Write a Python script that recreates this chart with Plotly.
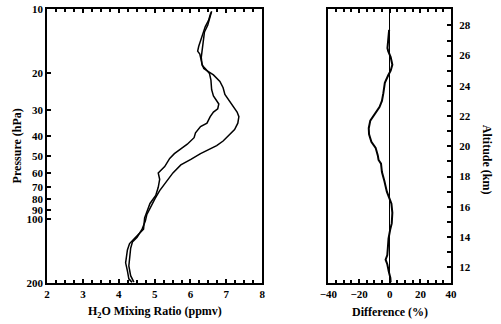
import plotly.graph_objects as go

# Water-vapour profiles (ppmv) versus pressure (hPa)
pres_a = [10.2, 11.05, 11.9, 12.8, 13.65, 15.2, 16.9, 18.15, 19.1, 19.75, 20.5, 22.0, 23.6,
          25.4, 26.75, 28.7, 30.8, 32.4, 34.8, 37.3, 39.4, 42.3, 44.5, 46.9, 48.6, 51.8,
          55.0, 60.0, 65.6, 72.9, 79.6, 85.4, 95.0, 101.8, 111.2, 121.5, 128.0, 137.4,
          150.0, 166.6, 185.2, 198.9]
h2o_a = [6.59, 6.54, 6.48, 6.39, 6.37, 6.33, 6.30, 6.32, 6.37, 6.50, 6.64, 6.82, 6.91,
         6.96, 7.05, 7.18, 7.30, 7.35, 7.32, 7.23, 7.09, 6.91, 6.73, 6.46, 6.28, 6.01,
         5.73, 5.51, 5.33, 5.14, 5.01, 4.92, 4.78, 4.74, 4.65, 4.51, 4.38, 4.33,
         4.30, 4.28, 4.33, 4.42]

pres_b = [10.34, 11.3, 12.1, 13.0, 13.9, 14.97, 15.8, 16.3, 17.2, 18.5, 19.1, 20.2, 21.7,
          24.1, 25.8, 27.2, 28.2, 29.7, 30.8, 32.4, 34.8, 36.1, 38.7, 40.8, 43.8, 46.1,
          48.6, 51.2, 56.0, 60.0, 64.4, 70.3, 76.8, 83.9, 91.6, 98.3, 111.2, 121.5,
          130.3, 139.7, 160.9, 175.7, 191.8, 199.4]
h2o_b = [6.57, 6.50, 6.41, 6.35, 6.28, 6.23, 6.20, 6.26, 6.29, 6.33, 6.41, 6.53, 6.57,
         6.59, 6.64, 6.73, 6.79, 6.76, 6.64, 6.55, 6.46, 6.28, 6.14, 6.10, 5.91, 5.73,
         5.55, 5.42, 5.28, 5.10, 5.14, 5.10, 5.03, 4.87, 4.78, 4.72, 4.69, 4.46,
         4.30, 4.24, 4.19, 4.24, 4.28, 4.37]

# Percent difference versus altitude (km)
alt_d = [27.7, 27.1, 26.5, 26.3, 25.9, 25.4, 25.0, 24.7, 24.2, 23.5, 23.0, 22.6, 22.1,
         21.7, 21.2, 20.8, 20.3, 19.9, 19.4, 19.1, 18.85, 18.3, 17.7, 17.0, 16.6, 16.2,
         15.6, 14.9, 14.5, 13.9, 13.2, 12.8, 12.5, 12.2, 11.7, 11.3, 11.0]
diff = [-0.4, -1.0, -1.5, -1.0, 0.6, 1.7, 0.6, -1.0, -3.2, -4.2, -5.1, -6.7, -9.9,
        -12.7, -13.7, -13.5, -12.0, -9.2, -7.8, -7.3, -5.7, -5.1, -3.5, -1.9, -0.4, 1.1,
        1.7, 1.3, 0.3, -0.8, -1.3, -1.6, -2.7, -1.6, -0.6, 0.4, 0.6]

p_ticks = [10, 20, 30, 40, 50, 60, 70, 80, 90, 100, 200]
alt_ticks = list(range(11, 30))
alt_text = [str(a) if a % 2 == 0 else "" for a in alt_ticks]

P_RANGE = [2.30103, 0.9995]
ALT_RANGE = [10.98, 29.06]

W, H = 501, 324
FONT = dict(family="Liberation Serif", size=11, color="black", weight="bold")
ydom = [1 - 287.3 / H, 1 - 3.5 / H]

fig = go.Figure()
line = dict(color="black", width=1.5)
fig.add_trace(go.Scatter(x=h2o_a, y=pres_a, mode="lines", line=line, xaxis="x", yaxis="y"))
fig.add_trace(go.Scatter(x=h2o_b, y=pres_b, mode="lines", line=line, xaxis="x", yaxis="y"))
fig.add_trace(go.Scatter(x=diff, y=alt_d, mode="lines", line=dict(color="black", width=2),
                         xaxis="x2", yaxis="y3"))

frame = dict(showline=True, linecolor="black", linewidth=2, showgrid=False,
             zeroline=False, tickfont=FONT, ticks="inside", tickcolor="black",
             ticklabeloverflow="allow")

fig.update_layout(
    width=W, height=H, margin=dict(l=0, r=0, t=0, b=0),
    paper_bgcolor="white", plot_bgcolor="white", showlegend=False,
    xaxis=dict(frame, domain=[39.3 / W, 261 / W], range=[2, 8], tickvals=[2, 3, 4, 5, 6, 7, 8],
               ticklen=4, tickwidth=1.5, mirror="ticks", anchor="y",
               minor=dict(dtick=0.25, ticklen=2.5, tickwidth=1.5, ticks="inside", tickcolor="black")),
    yaxis=dict(frame, domain=ydom, type="log", range=P_RANGE, tickvals=p_ticks,
               ticktext=[str(v) for v in p_ticks], ticklen=4, tickwidth=1.5,
               mirror=True, anchor="x"),
    yaxis2=dict(showline=False, showgrid=False, zeroline=False, overlaying="y", side="right",
                anchor="x", range=ALT_RANGE, tickvals=alt_ticks, showticklabels=False,
                ticks="inside", ticklen=4, tickwidth=1.5, tickcolor="black"),
    xaxis2=dict(frame, domain=[329.3 / W, 455.7 / W], range=[-40, 40],
                tickvals=[-40, -20, 0, 20, 40], ticklen=4, tickwidth=1.5, mirror="ticks",
                anchor="y3", zeroline=True, zerolinecolor="black", zerolinewidth=1,
                minor=dict(dtick=5, ticklen=2.5, tickwidth=1.5, ticks="inside", tickcolor="black")),
    yaxis3=dict(frame, domain=ydom, range=ALT_RANGE, side="right", anchor="x2",
                tickvals=alt_ticks, ticktext=alt_text, ticklen=4, tickwidth=1.5,
                mirror=True, ticklabelstandoff=4),
    yaxis4=dict(showline=False, showgrid=False, zeroline=False, overlaying="y3", side="left",
                anchor="x2", type="log", range=P_RANGE, tickvals=p_ticks, showticklabels=False,
                ticks="inside", ticklen=4, tickwidth=1.5, tickcolor="black"),
)

TITLE = dict(family="Liberation Serif", size=12, color="black", weight="bold")
common = dict(xref="paper", yref="paper", showarrow=False, font=TITLE,
              xanchor="center", yanchor="middle")
fig.add_annotation(text="H<sub>2</sub>O Mixing Ratio (ppmv)", x=150 / W, y=1 - 318 / H, **common)
fig.add_annotation(text="Difference (%)", x=393 / W, y=1 - 318 / H, **common)
fig.add_annotation(text="Pressure (hPa)", x=8 / W, y=1 - 145 / H, textangle=-90, **common)
fig.add_annotation(text="Altitude (km)", x=493 / W, y=1 - 160 / H, textangle=90, **common)

fig.write_html("out.html")
